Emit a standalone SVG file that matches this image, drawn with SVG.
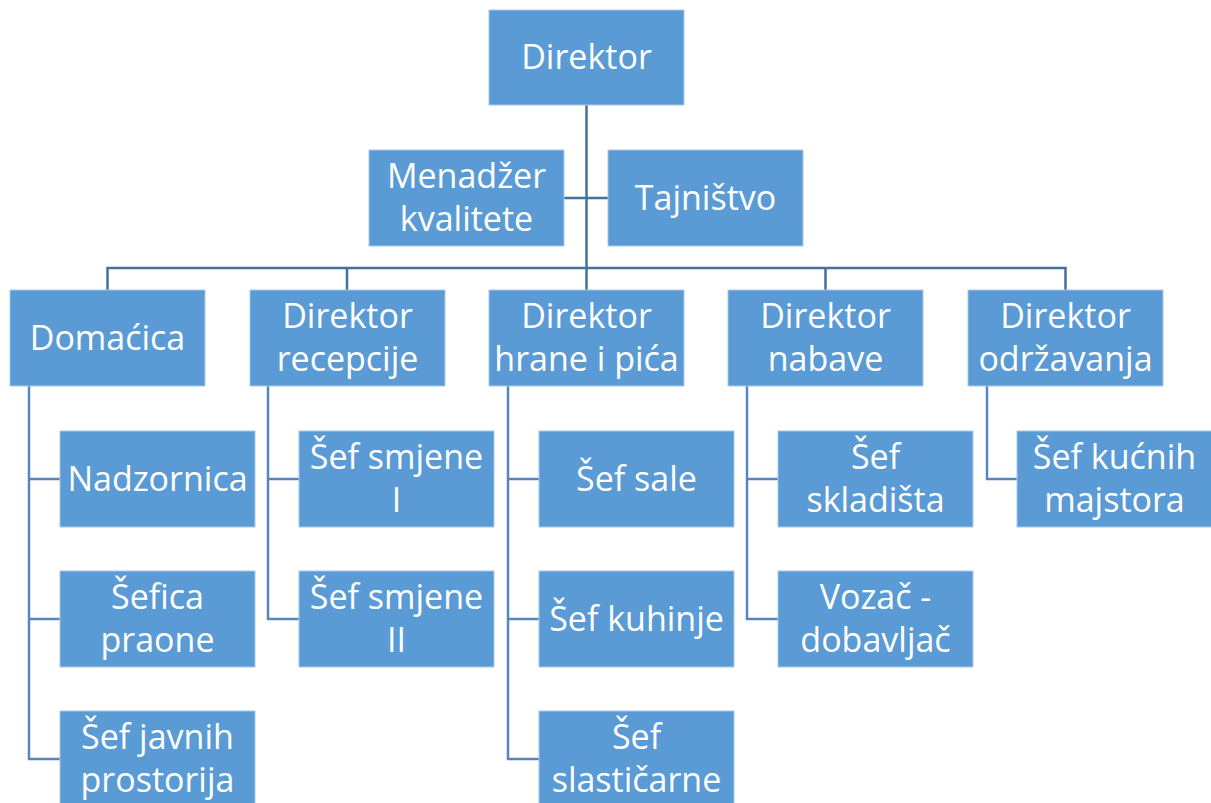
<svg xmlns="http://www.w3.org/2000/svg" width="1211" height="803" viewBox="0 0 1211 803">
<style>
.box{fill:#5B9BD5;stroke:#A9C8EA;stroke-width:1}
.t{font-family:"Open Sans","Liberation Sans",sans-serif;font-size:34px;fill:#ffffff;text-anchor:middle;dominant-baseline:central}
.main{stroke:#41719C;stroke-width:2.5;fill:none}
.sub{stroke:#5586C2;stroke-width:2.5;fill:none}
</style>
<rect width="1211" height="803" fill="#ffffff"/>
<g id="connectors">
<path class="main" d="M586.5 105V290M564 198H608M107.5 290V268H1065.5V290M347 268V290M825.5 268V290"/>
<path class="sub" d="M29 386V759H60M29 479H60M29 619H60"/>
<path class="sub" d="M268 386V619H299M268 479H299"/>
<path class="sub" d="M508 386V759H539M508 479H539M508 619H539"/>
<path class="sub" d="M747 386V619H778M747 479H778"/>
<path class="sub" d="M987 386V479H1017"/>
</g>
<g transform="translate(0,-1.5)">
<g id="direktor"><rect class="box" x="489" y="11.5" width="195" height="95"/><text class="t" x="586.5" y="57">Direktor</text></g>
</g>
<g id="menadzer"><rect class="box" x="369" y="150" width="195" height="96"/><text class="t" x="466.5" y="174.5">Menadžer</text><text class="t" x="466.5" y="217.5">kvalitete</text></g>
<g id="tajnistvo"><rect class="box" x="608" y="150" width="195" height="96"/><text class="t" x="705.5" y="196.5">Tajništvo</text></g>
<g id="domacica"><rect class="box" x="10" y="290" width="195" height="96"/><text class="t" x="107.5" y="336.5">Domaćica</text></g>
<g id="dir-recepcije"><rect class="box" x="250" y="290" width="195" height="96"/><text class="t" x="347.5" y="314.5">Direktor</text><text class="t" x="347.5" y="357.5">recepcije</text></g>
<g id="dir-hrane"><rect class="box" x="489" y="290" width="195" height="96"/><text class="t" x="586.5" y="314.5">Direktor</text><text class="t" x="586.5" y="357.5">hrane i pića</text></g>
<g id="dir-nabave"><rect class="box" x="728" y="290" width="195" height="96"/><text class="t" x="825.5" y="314.5">Direktor</text><text class="t" x="825.5" y="357.5">nabave</text></g>
<g id="dir-odrzavanja"><rect class="box" x="968" y="290" width="195" height="96"/><text class="t" x="1065.5" y="314.5">Direktor</text><text class="t" x="1065.5" y="357.5">održavanja</text></g>
<g id="nadzornica"><rect class="box" x="60" y="431" width="195" height="96"/><text class="t" x="157.5" y="477.5">Nadzornica</text></g>
<g id="sefica-praone"><rect class="box" x="60" y="571" width="195" height="96"/><text class="t" x="157.5" y="595.5">Šefica</text><text class="t" x="157.5" y="638.5">praone</text></g>
<g id="sef-javnih"><rect class="box" x="60" y="711" width="195" height="96"/><text class="t" x="157.5" y="735.5">Šef javnih</text><text class="t" x="157.5" y="778.5">prostorija</text></g>
<g id="sef-smjene-1"><rect class="box" x="299" y="431" width="195" height="96"/><text class="t" x="396.5" y="455.5">Šef smjene</text><text class="t" x="396.5" y="498.5">I</text></g>
<g id="sef-smjene-2"><rect class="box" x="299" y="571" width="195" height="96"/><text class="t" x="396.5" y="595.5">Šef smjene</text><text class="t" x="396.5" y="638.5">II</text></g>
<g id="sef-sale"><rect class="box" x="539" y="431" width="195" height="96"/><text class="t" x="636.5" y="477.5">Šef sale</text></g>
<g id="sef-kuhinje"><rect class="box" x="539" y="571" width="195" height="96"/><text class="t" x="636.5" y="617.5">Šef kuhinje</text></g>
<g id="sef-slasticarne"><rect class="box" x="539" y="711" width="195" height="96"/><text class="t" x="636.5" y="735.5">Šef</text><text class="t" x="636.5" y="778.5">slastičarne</text></g>
<g id="sef-skladista"><rect class="box" x="778" y="431" width="195" height="96"/><text class="t" x="875.5" y="455.5">Šef</text><text class="t" x="875.5" y="498.5">skladišta</text></g>
<g id="vozac"><rect class="box" x="778" y="571" width="195" height="96"/><text class="t" x="875.5" y="595.5">Vozač -</text><text class="t" x="875.5" y="638.5">dobavljač</text></g>
<g id="sef-kucnih"><rect class="box" x="1017" y="431" width="195" height="96"/><text class="t" x="1114.5" y="455.5">Šef kućnih</text><text class="t" x="1114.5" y="498.5">majstora</text></g>
</svg>
